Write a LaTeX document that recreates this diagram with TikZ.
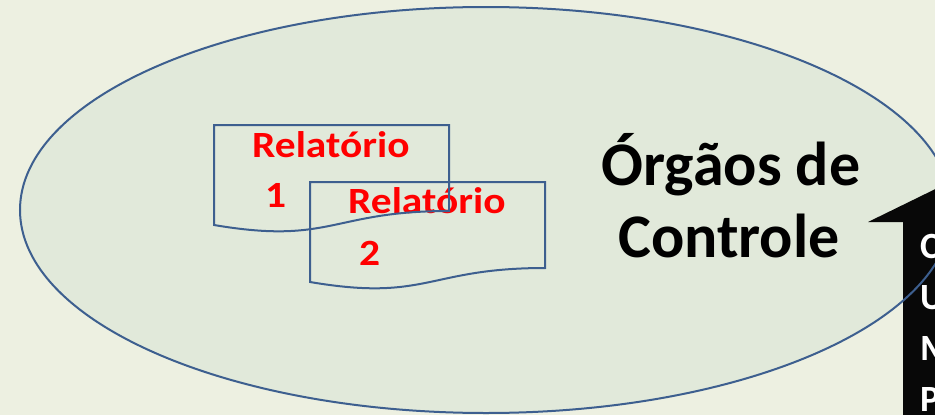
\documentclass[tikz,border=0pt]{standalone}
\usepackage{fontspec}
\setmainfont{Carlito}
\usepackage{graphicx}
\definecolor{bgc}{HTML}{EDF0E1}
\definecolor{ellfill}{HTML}{E1E9DA}
\definecolor{ellline}{HTML}{3D5F8F}
\definecolor{redtxt}{HTML}{FF0000}
\tikzset{
  doc/.style={draw=ellline, line width=2pt},
  reltxt/.style={anchor=base west, inner sep=0pt, text=redtxt, font=\fontsize{37}{40}\selectfont\bfseries},
  bigtxt/.style={anchor=base, inner sep=0pt, text=black, font=\fontsize{62}{70}\selectfont\bfseries},
  arrtxt/.style={anchor=base west, inner sep=0pt, text=white, font=\fontsize{37}{40}\selectfont\bfseries},
}
\begin{document}
\begin{tikzpicture}[x=1pt,y=-1pt]
\useasboundingbox (0,0) rectangle (935,415);
\clip (0,0) rectangle (935,415);
\fill[bgc] (0,0) rectangle (935,415);
% ellipse fill
\fill[ellfill] (486,210) ellipse [x radius=466, y radius=203];
% black block arrow
\fill[black!97] (868,222) -- (960,177) -- (960,430) -- (903,430) -- (903,222) -- cycle;
% ellipse border
\draw[ellline, line width=2pt] (486,210) ellipse [x radius=466, y radius=203];
% texts
\node[reltxt] (r1) at (252,157) {\scalebox{1.12}[1]{Relatório}};
\node[reltxt] (n1) at (265,207) {\scalebox{1.12}[1]{1}};
\node[reltxt] (r2) at (348,213) {\scalebox{1.12}[1]{Relatório}};
\node[reltxt] (n2) at (359,265) {\scalebox{1.12}[1]{2}};
% document outlines
\draw[doc] (214,125) -- (449,125) -- (449,211) .. controls (331.5,211) and (331.5,245) .. (214,225) -- cycle;
\draw[doc] (310,182) -- (545,182) -- (545,268) .. controls (427.5,268) and (427.5,302) .. (310,282) -- cycle;
% big label
\node[bigtxt] (og) at (731,185) {Órgãos de};
\node[bigtxt] (ct) at (729,257) {Controle};
% arrow letters (cut off at the right edge, as in the reference)
\node[arrtxt] (lc) at (920,258) {C};
\node[arrtxt] (lu) at (920,309) {U};
\node[arrtxt] (lm) at (920,360) {M};
\node[arrtxt] (lp) at (920,411) {P};
\end{tikzpicture}
\end{document}
